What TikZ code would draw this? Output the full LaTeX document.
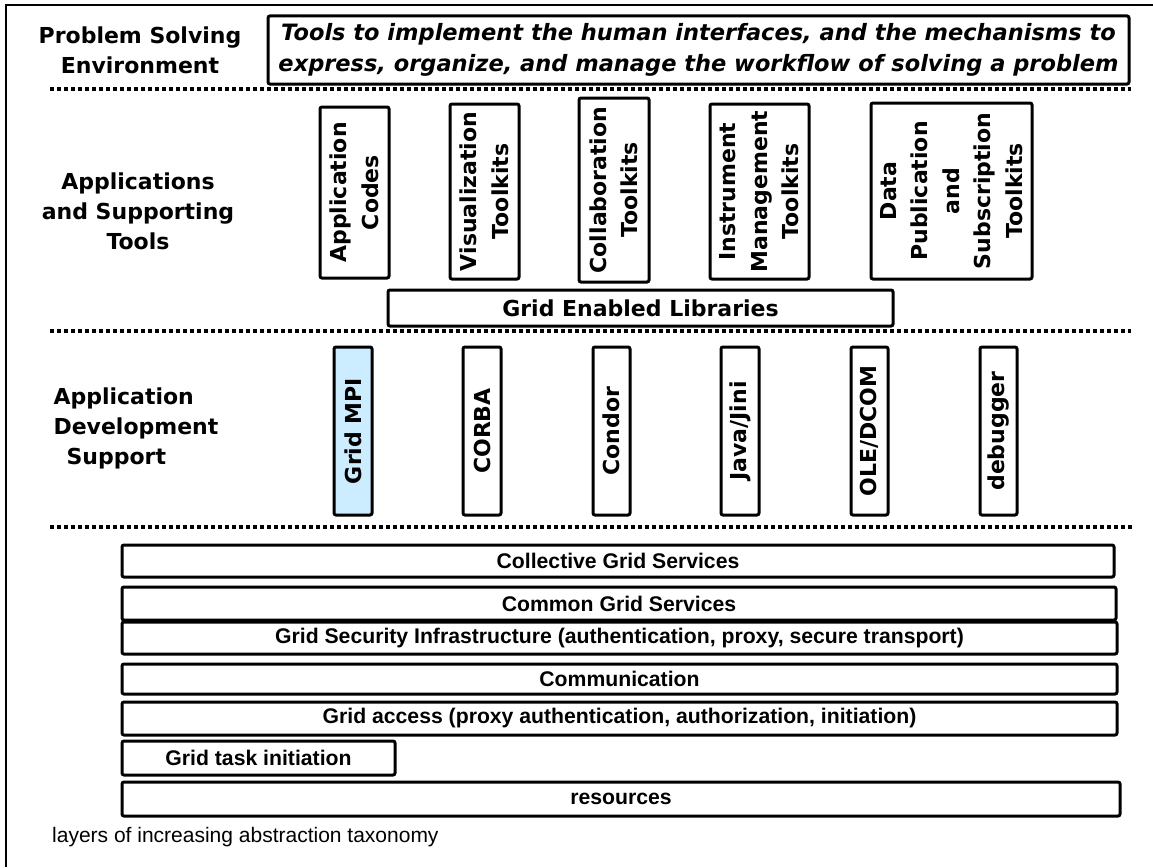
\documentclass[tikz,border=0pt]{standalone}
\usepackage{fontspec}
\usepackage{tikz}
\usetikzlibrary{positioning, calc}
\newfontfamily\labelfont{DejaVu Sans}
\newfontfamily\layerfont{Liberation Sans}
\definecolor{mpiblue}{RGB}{204, 236, 255}
\tikzset{
  box/.style={draw=black, line width=3pt, rounded corners=2pt, inner sep=0pt, align=center},
  vbox/.style={box, rotate=90, font=\labelfont\bfseries\fontsize{22}{31.5}\selectfont},
  layerbox/.style={box, minimum height=31pt, font=\layerfont\bfseries\fontsize{21.2}{24}\selectfont},
  sidelabel/.style={align=center, font=\labelfont\bfseries\fontsize{22}{30}\selectfont},
  divider/.style={line width=4pt, dash pattern=on 4pt off 3pt}
}

\begin{document}
\begin{tikzpicture}[x=1pt, y=-1pt]
  \useasboundingbox (0,0) rectangle (1153,867);
  \draw[line width=1.5pt] (6,867) -- (6,5) -- (1153,5);

  % problem solving environment
  \node[sidelabel] (psetitle) at (140,50) {Problem Solving\\Environment};
  \node[box, minimum width=861pt, minimum height=68pt, font=\labelfont\bfseries\itshape\fontsize{22.5}{31}\selectfont] (psebox) at (698.5,50) {
    Tools to implement the human interfaces, and the mechanisms to\\
    express, organize, and manage the workflow of solving a problem
  };
  \draw[divider] (50,89) -- (1131,89);

  % applications and supporting tools
  \node[sidelabel] (apptitle) at (138,211) {Applications\\and Supporting\\Tools};
  \node[vbox, minimum width=171pt, minimum height=69pt] (appcodes) at (354.5,192.5) {Application\\Codes};
  \node[vbox, minimum width=175pt, minimum height=69pt] (vistools) at (484.5,191.5) {Visualization\\Toolkits};
  \node[vbox, minimum width=184pt, minimum height=70pt] (collabtools) at (614,190) {Collaboration\\Toolkits};
  \node[vbox, minimum width=175pt, minimum height=99pt] (instrtools) at (759.5,191.5) {Instrument\\Management\\Toolkits};
  \node[vbox, minimum width=176pt, minimum height=161pt] (pubtools) at (951.5,191) {Data\\Publication\\and\\Subscription\\Toolkits};
  \node[box, minimum width=505pt, minimum height=36pt, font=\labelfont\bfseries\fontsize{22}{24}\selectfont] (gridlibs) at (640.5,308) {Grid Enabled Libraries};
  \draw[divider] (50,331) -- (1131,331);

  % application development support
  \node[sidelabel, align=left, anchor=west] (devtitle) at (50,428) {Application\\Development\\\hspace{13pt}Support};
  \node[vbox, minimum width=168pt, minimum height=38pt, fill=mpiblue] (gridmpi) at (353,431) {Grid MPI};
  \node[vbox, minimum width=168pt, minimum height=38pt] (corba) at (482,431) {CORBA};
  \node[vbox, minimum width=168pt, minimum height=37pt] (condor) at (611.5,431) {Condor};
  \node[vbox, minimum width=168pt, minimum height=38pt] (javajini) at (740,431) {Java/Jini};
  \node[vbox, minimum width=168pt, minimum height=37pt] (oledcom) at (869.5,431) {OLE/DCOM};
  \node[vbox, minimum width=168pt, minimum height=37pt] (debugger) at (998.5,431) {debugger};
  \draw[divider] (50,527) -- (1133,527);

  % grid layers
  \node[layerbox, minimum width=992pt, minimum height=32pt] (collective) at (618,561) {Collective Grid Services};
  \node[layerbox, minimum width=994pt, minimum height=33pt] (common) at (619,603.5) {Common Grid Services};
  \node[layerbox, minimum width=995pt, minimum height=32pt] (gsi) at (619.5,638) {Grid Security Infrastructure (authentication, proxy, secure transport)};
  \node[layerbox, minimum width=995pt, minimum height=30pt] (communication) at (619.5,679) {Communication};
  \node[layerbox, minimum width=995pt, minimum height=33pt] (access) at (619.5,718.5) {Grid access (proxy authentication, authorization, initiation)};
  \node[layerbox, minimum width=273pt, minimum height=34pt] (taskinit) at (258.5,758) {Grid task initiation};
  \node[layerbox, minimum width=998pt, minimum height=34pt] (resources) at (621,799) {resources};

  \node[anchor=west, inner sep=0pt, font=\layerfont\fontsize{21}{24}\selectfont] (caption) at (52,837) {layers of increasing abstraction taxonomy};
\end{tikzpicture}
\end{document}
